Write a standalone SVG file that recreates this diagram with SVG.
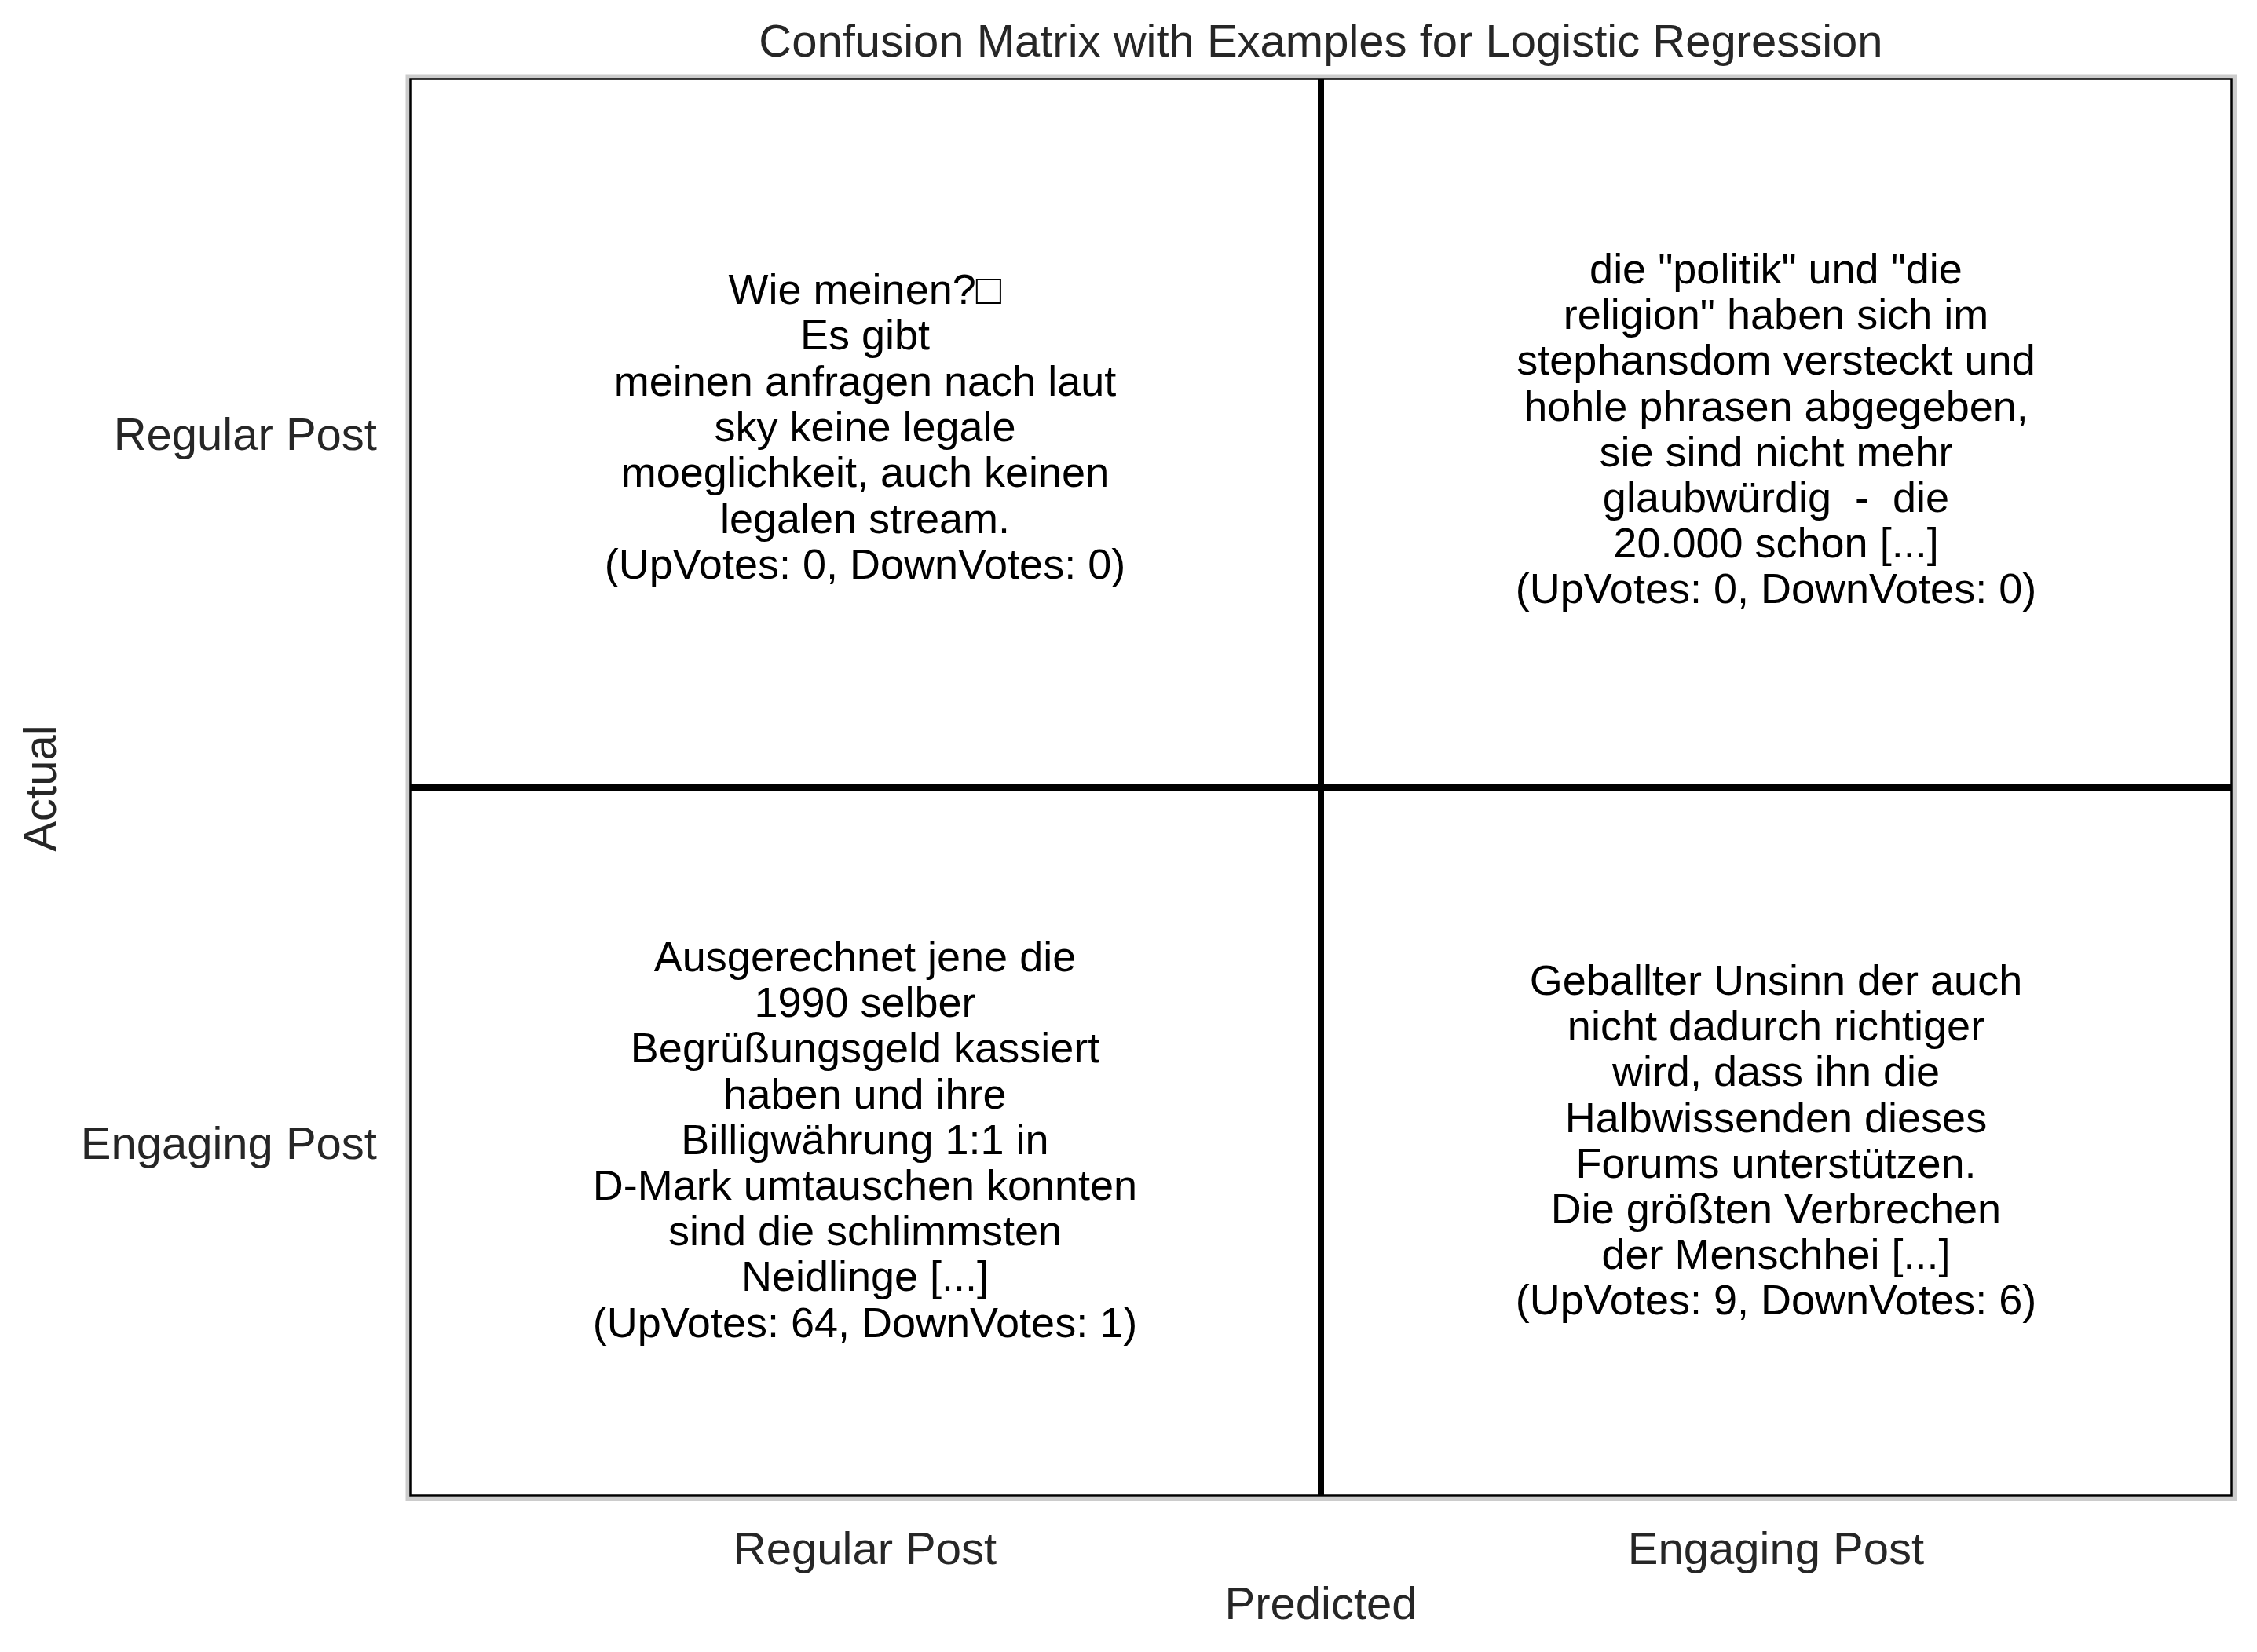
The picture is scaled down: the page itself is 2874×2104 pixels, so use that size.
<svg xmlns="http://www.w3.org/2000/svg" width="2874" height="2104" viewBox="0 0 2874 2104">
<style>
  .lbl { font-family: "Liberation Sans", Arial, sans-serif; font-size: 58px; fill: #262626; }
  .cell { font-family: "Liberation Sans", Arial, "DejaVu Sans", sans-serif; font-size: 54px; fill: #000000; text-anchor: middle; white-space: pre; }
  .div { stroke: #000000; stroke-width: 8; }
</style>
<rect x="0" y="0" width="2874" height="2104" fill="#ffffff"/>
<text id="title" class="lbl" x="1682" y="72" text-anchor="middle">Confusion Matrix with Examples for Logistic Regression</text>
<g id="frame">
  <rect x="519.5" y="97.5" width="2325.5" height="1811.5" fill="#ffffff" stroke="#cccccc" stroke-width="6"/>
  <rect x="522.5" y="100.5" width="2319" height="1804" fill="none" stroke="#000000" stroke-width="2.5"/>
</g>
<g id="connectors">
  <line class="div" x1="1682" y1="100" x2="1682" y2="1905"/>
  <line class="div" x1="522" y1="1003" x2="2841" y2="1003"/>
</g>
<g id="cell-regular-regular">
  <text class="cell" x="1101.5" y="387"><tspan x="1101.5" dy="0">Wie meinen?□</tspan><tspan x="1101.5" dy="58.3">Es gibt</tspan><tspan x="1101.5" dy="58.3">meinen anfragen nach laut</tspan><tspan x="1101.5" dy="58.3">sky keine legale</tspan><tspan x="1101.5" dy="58.3">moeglichkeit, auch keinen</tspan><tspan x="1101.5" dy="58.3">legalen stream.</tspan><tspan x="1101.5" dy="58.3">(UpVotes: 0, DownVotes: 0)</tspan></text>
</g>
<g id="cell-regular-engaging">
  <text class="cell" x="2261.5" y="361"><tspan x="2261.5" dy="0">die "politik" und "die</tspan><tspan x="2261.5" dy="58.2">religion" haben sich im</tspan><tspan x="2261.5" dy="58.2">stephansdom versteckt und</tspan><tspan x="2261.5" dy="58.2">hohle phrasen abgegeben,</tspan><tspan x="2261.5" dy="58.2">sie sind nicht mehr</tspan><tspan x="2261.5" dy="58.2">glaubwürdig  -  die</tspan><tspan x="2261.5" dy="58.2">20.000 schon [...]</tspan><tspan x="2261.5" dy="58.2">(UpVotes: 0, DownVotes: 0)</tspan></text>
</g>
<g id="cell-engaging-regular">
  <text class="cell" x="1101.5" y="1237"><tspan x="1101.5" dy="0">Ausgerechnet jene die</tspan><tspan x="1101.5" dy="58.2">1990 selber</tspan><tspan x="1101.5" dy="58.2">Begrüßungsgeld kassiert</tspan><tspan x="1101.5" dy="58.2">haben und ihre</tspan><tspan x="1101.5" dy="58.2">Billigwährung 1:1 in</tspan><tspan x="1101.5" dy="58.2">D-Mark umtauschen konnten</tspan><tspan x="1101.5" dy="58.2">sind die schlimmsten</tspan><tspan x="1101.5" dy="58.2">Neidlinge [...]</tspan><tspan x="1101.5" dy="58.2">(UpVotes: 64, DownVotes: 1)</tspan></text>
</g>
<g id="cell-engaging-engaging">
  <text class="cell" x="2261.5" y="1267"><tspan x="2261.5" dy="0">Geballter Unsinn der auch</tspan><tspan x="2261.5" dy="58.2">nicht dadurch richtiger</tspan><tspan x="2261.5" dy="58.2">wird, dass ihn die</tspan><tspan x="2261.5" dy="58.2">Halbwissenden dieses</tspan><tspan x="2261.5" dy="58.2">Forums unterstützen.</tspan><tspan x="2261.5" dy="58.2">Die größten Verbrechen</tspan><tspan x="2261.5" dy="58.2">der Menschhei [...]</tspan><tspan x="2261.5" dy="58.2">(UpVotes: 9, DownVotes: 6)</tspan></text>
</g>
<g id="axis-labels">
  <text class="lbl" x="480" y="573" text-anchor="end">Regular Post</text>
  <text class="lbl" x="480" y="1476" text-anchor="end">Engaging Post</text>
  <text class="lbl" x="1101.5" y="1992" text-anchor="middle">Regular Post</text>
  <text class="lbl" x="2261.5" y="1992" text-anchor="middle">Engaging Post</text>
  <text class="lbl" x="1682" y="2062" text-anchor="middle">Predicted</text>
  <text class="lbl" transform="translate(71,1004) rotate(-90)" x="0" y="0" text-anchor="middle">Actual</text>
</g>
</svg>
